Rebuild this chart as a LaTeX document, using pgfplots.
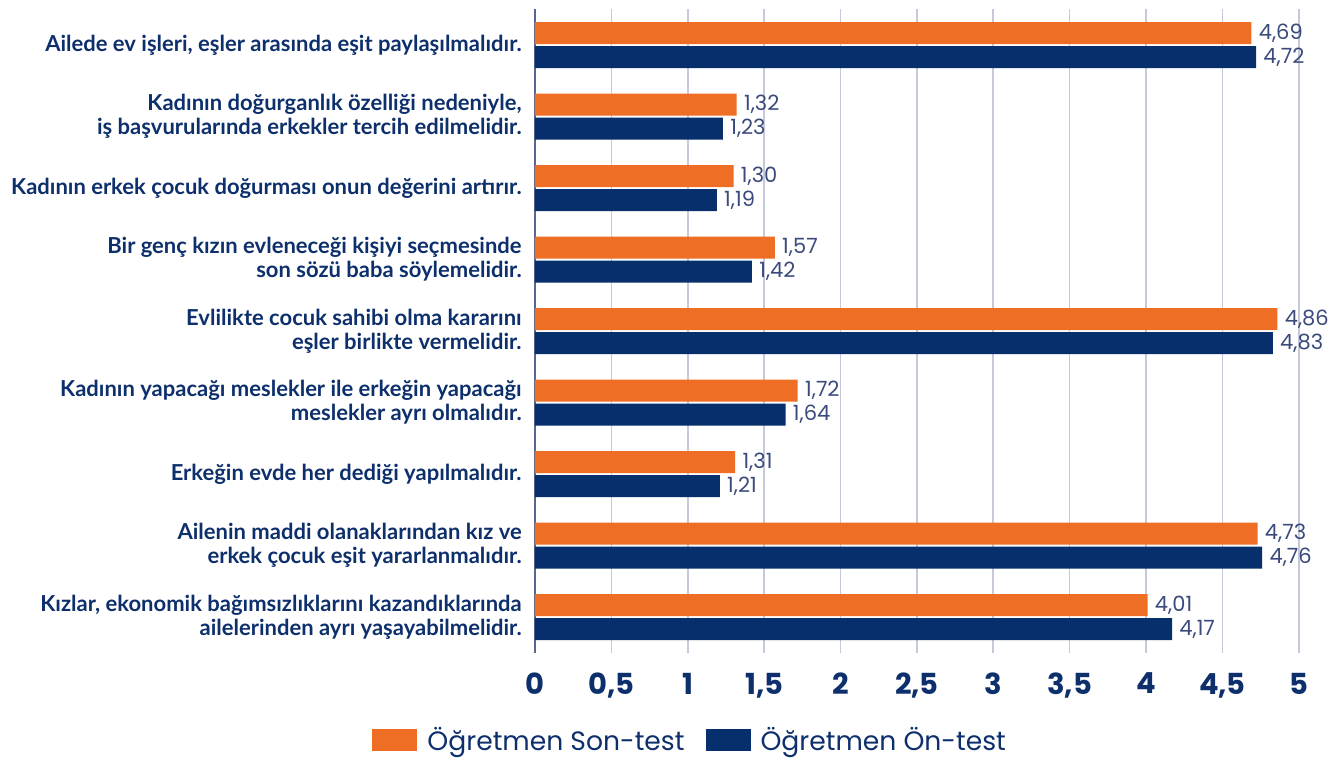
\documentclass[border=0pt]{standalone}
\usepackage{pgfplots}
\pgfplotsset{compat=1.18}
\usepackage{pgfplotstable}
\usepackage{fontspec}
\setmainfont{Poppins}
\newfontfamily\labfont{Lato}
\definecolor{cOrange}{HTML}{EE6E25}
\definecolor{cNavy}{HTML}{062F6B}
\definecolor{cText}{HTML}{0D2F6C}
\definecolor{cVal}{HTML}{3B4A7C}
\definecolor{cGrid}{HTML}{C5C9DA}
\definecolor{cAxis}{HTML}{5A6690}
\pgfplotstableread{
y son on
8 4.69 4.72
7 1.32 1.23
6 1.30 1.19
5 1.57 1.42
4 4.86 4.83
3 1.72 1.64
2 1.31 1.21
1 4.73 4.76
0 4.01 4.17
}\data
\begin{document}
\begin{tikzpicture}
\begin{axis}[
  name=ax,
  scale only axis,
  width=381.9pt, height=321.75pt,
  xmin=0, xmax=5, ymin=-0.5, ymax=8.5,
  xbar, bar width=11pt,
  axis lines*=left,
  x axis line style={draw=none},
  y axis line style={draw=cAxis, line width=0.8pt},
  xtick={0,0.5,...,5},
  ytick={0,...,8},
  major tick length=0pt,
  xmajorgrids, major grid style={draw=cGrid, line width=0.8pt},
  /pgf/number format/.cd, use comma, assume math mode=true, 1000 sep={},
  /pgfplots/.cd,
  xticklabel style={font=\fontsize{14.5}{17}\selectfont\bfseries, text=cText, yshift=-6.5pt},
  yticklabel style={font=\labfont\fontsize{11}{12}\selectfont\bfseries, text=cText, align=right, inner sep=0pt, xshift=-6.5pt},
  yticklabels={
    {Kızlar, ekonomik bağımsızlıklarını kazandıklarında\\ailelerinden ayrı yaşayabilmelidir.},
    {Ailenin maddi olanaklarından kız ve\\erkek çocuk eşit yararlanmalıdır.},
    {Erkeğin evde her dediği yapılmalıdır.},
    {Kadının yapacağı meslekler ile erkeğin yapacağı\\meslekler ayrı olmalıdır.},
    {Evlilikte cocuk sahibi olma kararını\\eşler birlikte vermelidir.},
    {Bir genç kızın evleneceği kişiyi seçmesinde\\son sözü baba söylemelidir.},
    {Kadının erkek çocuk doğurması onun değerini artırır.},
    {Kadının doğurganlık özelliği nedeniyle,\\iş başvurularında erkekler tercih edilmelidir.},
    {Ailede ev işleri, eşler arasında eşit paylaşılmalıdır.}
  },
  nodes near coords,
  point meta=x,
  nodes near coords style={font=\fontsize{10.5}{12}\selectfont, text=cVal, anchor=west, inner sep=1pt, xshift=2.5pt,
    /pgf/number format/.cd, fixed, fixed zerofill, precision=2, use comma},
  legend columns=2,
  legend style={at={(0.2045,-0.1356)}, anchor=center, draw=none, fill=none,
    font=\fontsize{13.3}{16}\selectfont, text=cText,
    /tikz/every even column/.append style={column sep=8.5pt}},
  legend image code/.code={\fill[#1] (0pt,-5.5pt) rectangle (22.5pt,5.5pt); \path (25.5pt,0pt);},
  clip=false,
]
\addplot[draw=none, fill=cOrange, bar shift=6pt] table[x=son, y=y] {\data};
\addlegendentry{Öğretmen Son-test}
\addplot[draw=none, fill=cNavy, bar shift=-6pt] table[x=on, y=y] {\data};
\addlegendentry{Öğretmen Ön-test}
\end{axis}
\pgfresetboundingbox
\path (ax.south west) ++(-267.5pt,-52.6pt) rectangle ++(665.5pt,379pt);
\end{tikzpicture}
\end{document}
